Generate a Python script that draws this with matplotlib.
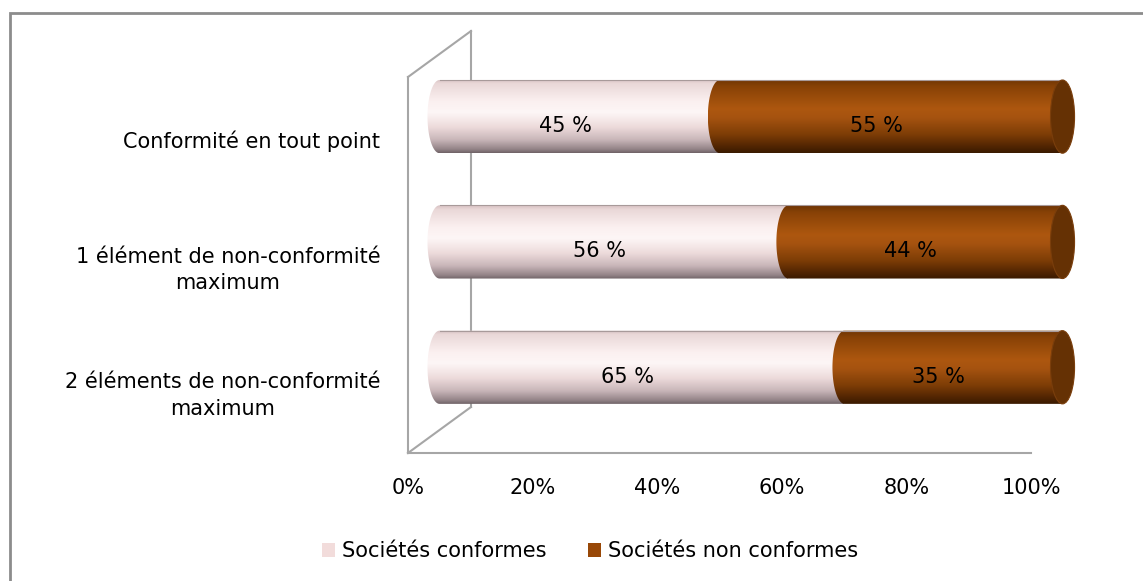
import numpy as np
import matplotlib
matplotlib.use("Agg")
import matplotlib.pyplot as plt
from matplotlib import font_manager
from matplotlib.colors import LinearSegmentedColormap
from matplotlib.patches import Polygon, Ellipse, Rectangle, Patch

# ---------------- data ----------------
categories = ["Conformité en tout point",
              "1 élément de non-conformité\nmaximum",
              "2 éléments de non-conformité\nmaximum"]
conformes = [45, 56, 65]
non_conformes = [55, 44, 35]
series_names = ["Sociétés conformes", "Sociétés non conformes"]
xticks = [0, 20, 40, 60, 80, 100]
xticklabels = ["0%", "20%", "40%", "60%", "80%", "100%"]

# ---------------- fonts ----------------
names = {f.name for f in font_manager.fontManager.ttflist}
if "Liberation Sans Narrow" in names:
    FAMILY, FS = "Liberation Sans Narrow", 20.5
else:
    FAMILY, FS = "DejaVu Sans", 15
plt.rcParams["font.family"] = [FAMILY, "DejaVu Sans"]
plt.rcParams["font.size"] = FS

# ---------------- colours ----------------
pink_cmap = LinearSegmentedColormap.from_list("pink3d", [
    (0.00, "#d6c0c2"), (0.06, "#ead8d8"), (0.30, "#fbf0f0"),
    (0.45, "#fdf6f6"), (0.65, "#eddbdb"), (0.82, "#c9b6b9"),
    (0.95, "#938387"), (1.00, "#6f6266")])
brown_cmap = LinearSegmentedColormap.from_list("brown3d", [
    (0.00, "#6e3404"), (0.10, "#884206"), (0.40, "#ad570f"),
    (0.52, "#a65310"), (0.75, "#7d3d06"), (0.92, "#4f2402"),
    (1.00, "#3a1a00")])
CAP = "#653104"
WALL = "#a6a6a6"
LEG_COLORS = ["#f2dcdb", "#984807"]

W, H = 1143, 581
PX = 6.23                  # pixels per percent on the front plane
XMAX = 110
fig = plt.figure(figsize=(W / 100, H / 100), dpi=100)
# axes = front plane of the 3D box (0% at x=408, rows between y=77 and 453)
ax_w = PX * XMAX
ax = fig.add_axes([408 / W, (H - 453) / H, ax_w / W, (453 - 77) / H])
ax.patch.set_visible(False)

# chart-area border (left / top only visible)
fig.patches.append(Rectangle((10 / W, -0.2), 1.2, (H - 13) / H + 0.2,
                             transform=fig.transFigure, fill=False,
                             edgecolor="#8c8c8c", lw=2))

# 3D offsets: bars sit half-way in depth
dx, dy = 5.06, 0.184       # data units
bar_h = 0.584
cap_a = 1.93               # half-width of end ellipses (data units)
ypos = [2, 1, 0]


def cyl_shape(x0, x1, yc, h, a):
    t = np.linspace(0, np.pi, 50)
    xs = np.concatenate([[x1], x0 - a * np.sin(t), [x1]])
    ys = np.concatenate([[yc + h / 2], yc + h / 2 * np.cos(t), [yc - h / 2]])
    return Polygon(np.column_stack([xs, ys]), closed=True,
                   transform=ax.transData)


grad = np.linspace(0, 1, 256).reshape(-1, 1)
for i, y in enumerate(ypos):
    yc = y + dy
    segs = [(0, conformes[i], pink_cmap), (conformes[i], 100, brown_cmap)]
    for k, (s, e, cmap) in enumerate(segs):
        x0, x1 = s + dx, e + dx
        im = ax.imshow(grad, cmap=cmap, extent=[x0 - cap_a, x1, yc - bar_h / 2, yc + bar_h / 2],
                       aspect="auto", origin="upper", interpolation="bilinear",
                       zorder=3 + k)
        im.set_clip_path(cyl_shape(x0, x1, yc, bar_h, cap_a))
    ax.add_patch(Ellipse((100 + dx, yc), 2 * cap_a, bar_h, facecolor=CAP,
                         edgecolor="#7a3e0c", lw=0.8, zorder=6))
    ax.plot([dx, 100 + dx], [yc + bar_h / 2] * 2, color="#a89a9a", lw=0.8, zorder=5)
    # value labels
    ax.text(conformes[i] / 2 + 2.7, y + 0.11, f"{conformes[i]} %",
            ha="center", va="center", zorder=7)
    ax.text(conformes[i] + non_conformes[i] / 2 + 2.7, y + 0.11, f"{non_conformes[i]} %",
            ha="center", va="center", zorder=7)

# side wall and floor of the 3D box
ddx, ddy = 63 / ax_w, 46 / 376
for xs, ys in [([ddx, ddx], [ddy, 1 + ddy]), ([0, ddx], [1, 1 + ddy]), ([0, ddx], [0, ddy])]:
    ax.plot(xs, ys, transform=ax.transAxes, color=WALL, lw=1.5, clip_on=False, zorder=1)

ax.set_xlim(0, XMAX)
ax.set_ylim(-0.5, 2.5)
for sp in ["top", "right"]:
    ax.spines[sp].set_visible(False)
for sp in ["left", "bottom"]:
    ax.spines[sp].set_color(WALL)
    ax.spines[sp].set_linewidth(1.5)
    ax.spines[sp].set_zorder(1)
ax.spines["bottom"].set_bounds(0, 100)

ax.set_xticks(xticks)
ax.set_xticklabels(xticklabels)
ax.set_yticks(ypos)
ax.set_yticklabels(categories, multialignment="center", linespacing=1.4)
ax.tick_params(axis="x", length=0, pad=18)
ax.tick_params(axis="y", length=0, pad=20)

handles = [Patch(facecolor=c, edgecolor="none") for c in LEG_COLORS]
fig.legend(handles, series_names, loc="center", bbox_to_anchor=(0.516, (H - 551) / H),
           ncol=2, frameon=False, handlelength=0.65, handleheight=0.65,
           handletextpad=0.3, columnspacing=2.0)

fig.savefig("out.png", dpi=100)
